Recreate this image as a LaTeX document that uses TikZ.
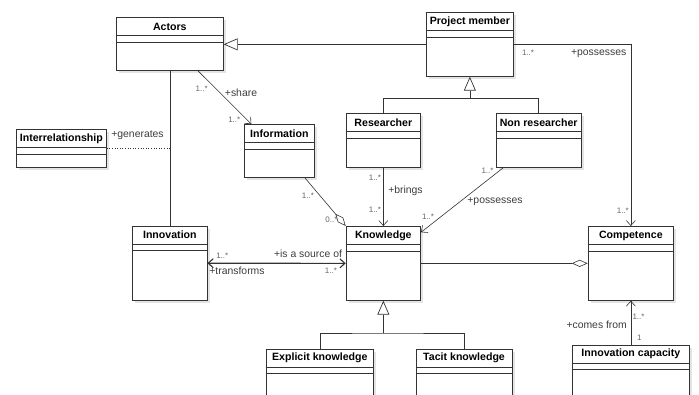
\documentclass[tikz,border=0pt]{standalone}
\usepackage{fontspec}
\setmainfont{Liberation Sans}
\usepackage{tikz}
\usetikzlibrary{arrows.meta, calc, positioning, shadows}
\definecolor{umlline}{HTML}{333333}
\definecolor{umltext}{HTML}{3C3C3C}
\definecolor{umlmult}{HTML}{666666}
\definecolor{umlshadow}{HTML}{E4E4E4}

\tikzset{
  classbox/.style={draw=umlline, fill=white, line width=0.7pt, inner sep=0pt, anchor=north west,
    drop shadow={shadow xshift=2.5pt, shadow yshift=-2.5pt, fill=umlshadow, opacity=1}},
  classname/.style={font=\fontsize{10.6}{12}\selectfont\bfseries, text=black, inner sep=0pt},
  rolelabel/.style={font=\fontsize{10.4}{12}\selectfont, text=umltext, inner sep=0pt},
  multlabel/.style={font=\fontsize{8}{9}\selectfont, text=umlmult, inner sep=0pt},
  sepline/.style={draw=umlline, line width=0.6pt},
  assoc/.style={draw=umlline, line width=0.6pt, -{Straight Barb[length=5pt, width=9pt]}},
  biassoc/.style={draw=umlline, line width=1.1pt, {Straight Barb[length=5pt, width=9pt]}-{Straight Barb[length=5pt, width=9pt]}},
  gen/.style={draw=umlline, line width=0.7pt, -{Triangle[open, length=14pt, width=12pt, fill=white]}},
  aggr/.style={draw=umlline, line width=0.6pt, -{Diamond[open, length=16pt, width=7pt, fill=white]}},
}

% class box: name, left, top, width, height, title
\newcommand{\umlclass}[6]{%
  \node[classbox, minimum width=#4pt, minimum height=#5pt] (#1) at (#2,#3) {};
  \node[classname] (#1-name) at ($(#1.north)+(0,9.5)$) {#6};
  \draw[sepline] ($(#1.north west)+(0,18.5)$) -- ($(#1.north east)+(0,18.5)$);
  \draw[sepline] ($(#1.north west)+(0,25)$) -- ($(#1.north east)+(0,25)$);
}

\begin{document}
\begin{tikzpicture}[x=1pt, y=-1pt]
  \useasboundingbox (0,0) rectangle (699,395);
  \clip (0,0) rectangle (699,395);

  % classes
  \umlclass{actors}{116}{17}{107}{53}{Actors}
  \umlclass{pm}{426}{12}{87}{64}{Project member}
  \umlclass{inter}{16}{129.3}{90}{37.4}{Interrelationship}
  \umlclass{info}{244.3}{124}{69.4}{53.3}{Information}
  \umlclass{res}{345.7}{113.3}{74.6}{53.4}{Researcher}
  \umlclass{nonres}{495.7}{113.3}{85.3}{53.4}{Non researcher}
  \umlclass{innov}{132.3}{225.7}{74.4}{74.3}{Innovation}
  \umlclass{know}{345.7}{226}{74.6}{74}{Knowledge}
  \umlclass{comp}{587.7}{226}{85.6}{74}{Competence}
  \umlclass{expl}{265.7}{348.7}{107.6}{70}{Explicit knowledge}
  \umlclass{tacit}{415.7}{348.7}{96}{70}{Tacit knowledge}
  \umlclass{icap}{571.7}{344.7}{117.6}{70}{Innovation capacity}

  % generalisations
  \draw[gen] (pm.west) -- (pm.west -| actors.east);
  \coordinate (pmbar) at ($(pm.south)+(0,21.5)$);
  \draw[sepline] (res.north) |- (pmbar) -| (nonres.north);
  \draw[gen] (pmbar) -- (pm.south);
  \coordinate (knowbar) at ($(know.south)+(0,32.3)$);
  \draw[sepline] (expl.north) |- (knowbar) -| (tacit.north);
  \draw[gen] (knowbar) -- (know.south);

  % associations
  \draw[sepline] (actors.south) -- (innov.north);
  \draw[sepline, dotted] (inter.east) -- (inter.east -| actors.south);
  \draw[assoc] ($(actors.south)+(28,0)$) -- ($(info.north west)+(7,0)$);
  \draw[aggr] ($(info.south east)+(-9.4,0)$) -- (know.north west);
  \draw[assoc] (res.south) -- (know.north);
  \draw[assoc] ($(nonres.south west)+(8,0)$) -- ($(know.north east)+(0,6.3)$);
  \draw[biassoc] (innov.east) -- (know.west);
  \draw[aggr] (know.east) -- (comp.west);
  \draw[assoc] (pm.east) -| (comp.north);
  \draw[assoc] (icap.north) -- (comp.south);

  % role names and multiplicities
  \node[multlabel] (m-act1) at (201.7,88.3) {1..*};
  \node[rolelabel] (r-share) at (241,92.7) {+share};
  \node[multlabel] (m-act2) at (234.3,119.3) {1..*};
  \node[rolelabel] (r-gen) at (137.5,135) {+generates};
  \node[multlabel] (m-info1) at (308,195.7) {1..*};
  \node[multlabel] (m-info2) at (331.5,220) {0..*};
  \node[multlabel] (m-res1) at (375,177.7) {1..*};
  \node[rolelabel] (r-brings) at (405.5,190.7) {+brings};
  \node[multlabel] (m-res2) at (375,210) {1..*};
  \node[multlabel] (m-non1) at (487.5,170.7) {1..*};
  \node[rolelabel] (r-poss1) at (495,202) {+possesses};
  \node[multlabel] (m-non2) at (428,217) {1..*};
  \node[multlabel] (m-pm1) at (528,52.7) {1..*};
  \node[rolelabel] (r-poss2) at (598.7,54) {+possesses};
  \node[multlabel] (m-pm2) at (622.8,210.7) {1..*};
  \node[multlabel] (m-inn1) at (222.3,255.3) {1..*};
  \node[rolelabel] (r-source) at (308,253.3) {+is a source of};
  \node[rolelabel] (r-trans) at (237,271) {+transforms};
  \node[multlabel] (m-inn2) at (331,271) {1..*};
  \node[multlabel] (m-cap1) at (638.5,316.7) {1..*};
  \node[rolelabel] (r-comes) at (596.7,325) {+comes from};
  \node[multlabel] (m-cap2) at (639.3,337.7) {1};
\end{tikzpicture}
\end{document}
